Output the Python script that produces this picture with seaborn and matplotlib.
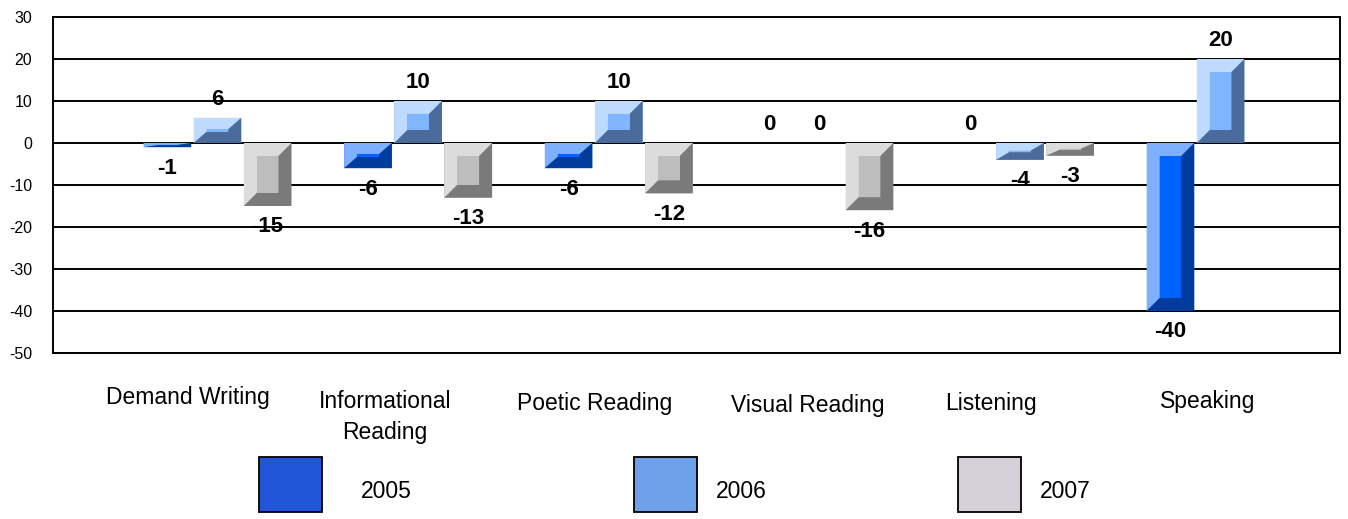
import numpy as np
import pandas as pd
import matplotlib
matplotlib.use("Agg")
import matplotlib.pyplot as plt
import seaborn as sns
from matplotlib.patches import Polygon, Rectangle
from matplotlib.transforms import blended_transform_factory

# ---------------- data ----------------
categories = ["Demand Writing", "Informational\nReading", "Poetic Reading",
              "Visual Reading", "Listening", "Speaking"]
years = ["2005", "2006", "2007"]
v2005 = [-1, -6, -6, 0, 0, -40]
v2006 = [6, 10, 10, 0, -4, 20]
v2007 = [-15, -13, -12, -16, -3, np.nan]
yticks = [-50, -40, -30, -20, -10, 0, 10, 20, 30]

# ---------------- style ----------------
face = {"2005": "#0062FF", "2006": "#80B5FF", "2007": "#BDBDBD"}
light = {"2005": "#7FB0FF", "2006": "#BEDAFF", "2007": "#DCDCDC"}
dark = {"2005": "#003C9C", "2006": "#4A6B9B", "2007": "#7A7A7A"}
legend_col = {"2005": "#2156D9", "2006": "#6FA1EB", "2007": "#D5D0D8"}

rows = []
for yr, vals in zip(years, [v2005, v2006, v2007]):
    for c, v in zip(categories, vals):
        rows.append({"category": c, "year": yr, "value": v})
df = pd.DataFrame(rows).dropna()

sns.set_theme(style="white")
plt.rcParams["font.family"] = ["Liberation Sans", "DejaVu Sans"]
plt.rcParams["text.color"] = "black"
plt.rcParams["ytick.color"] = "black"

W, H = 1348, 519
fig = plt.figure(figsize=(W / 100, H / 100), dpi=100)
L, R, T, B = 53, 1340, 17, 353
ax = fig.add_axes([L / W, 1 - B / H, (R - L) / W, (B - T) / H])

sns.barplot(data=df, x="category", y="value", hue="year", order=categories,
            hue_order=years, palette=face, width=0.75, gap=0.05,
            errorbar=None, dodge=True, linewidth=0, legend=False, ax=ax,
            zorder=3)

xlim = (-0.82, 5.595)
ylim = (-50, 30)
ax.set_xlim(*xlim)
ax.set_ylim(*ylim)
ax.set_yticks(yticks)
ax.set_yticklabels([str(t) for t in yticks], fontsize=11.5, color="black")
ax.tick_params(axis="y", length=0, pad=15, colors="black")
ax.set_xticks([])
ax.set_xlabel("")
ax.set_ylabel("")
ax.set_axisbelow(True)
ax.yaxis.grid(True, color="black", lw=1.4)
for s in ax.spines.values():
    s.set_visible(True)
    s.set_color("black")
    s.set_linewidth(1.4)

# bevel decoration on every bar + value labels
sx = (xlim[1] - xlim[0]) / (R - L)
sy = (ylim[1] - ylim[0]) / (B - T)
bev = 13
for yr, cont in zip(years, ax.containers):
    for p in cont.patches:
        x0 = p.get_x(); w = p.get_width()
        y0 = p.get_y(); h = p.get_height()
        x1 = x0 + w
        yb, yt = min(y0, y0 + h), max(y0, y0 + h)
        val = h
        off = 13 if val >= 0 else -15
        ax.annotate(f"{val:g}", (x0 + w / 2, y0 + h), xytext=(0, off),
                    textcoords="offset points", ha="center", va="center",
                    fontsize=16, fontweight="bold", color="black", zorder=6)
        if yt - yb <= 0:
            continue
        dx = min(bev * sx, w / 2 * 0.9)
        dy = min(bev * sy, (yt - yb) / 2 * 0.9)
        lt = [(x0, yb), (x0, yt), (x1, yt), (x1 - dx, yt - dy),
              (x0 + dx, yt - dy), (x0 + dx, yb + dy)]
        rb = [(x0, yb), (x1, yb), (x1, yt), (x1 - dx, yt - dy),
              (x1 - dx, yb + dy), (x0 + dx, yb + dy)]
        ax.add_patch(Polygon(lt, closed=True, facecolor=light[yr], lw=0, zorder=4))
        ax.add_patch(Polygon(rb, closed=True, facecolor=dark[yr], lw=0, zorder=4))
        ax.add_patch(Rectangle((x0 + dx, yb + dy), w - 2 * dx, (yt - yb) - 2 * dy,
                               facecolor=face[yr], lw=0, zorder=5))

# category labels below the plot
trans = blended_transform_factory(ax.transData, fig.transFigure)
lab_dx = [-30, -33, -24, -12, -29, -13]
lab_top = [386, 390, 392, 394, 392, 390]
for i, (c, dxp, yt) in enumerate(zip(categories, lab_dx, lab_top)):
    ax.text(i + dxp * sx, 1 - yt / H, c, transform=trans, ha="center",
            va="top", fontsize=16.5, linespacing=1.45, clip_on=False,
            color="black")

# legend
leg_box_x = [259, 634, 958]
leg_txt_x = [386, 741, 1065]
for yr, bx, tx in zip(years, leg_box_x, leg_txt_x):
    fig.patches.append(Rectangle((bx / W, 1 - 512 / H), 63 / W, 55 / H,
                                 transform=fig.transFigure,
                                 facecolor=legend_col[yr], edgecolor="black",
                                 lw=1.3))
    fig.text(tx / W, 1 - 492 / H, yr, ha="center", va="center", fontsize=16.5,
             color="black")

fig.savefig("out.png", dpi=100)
